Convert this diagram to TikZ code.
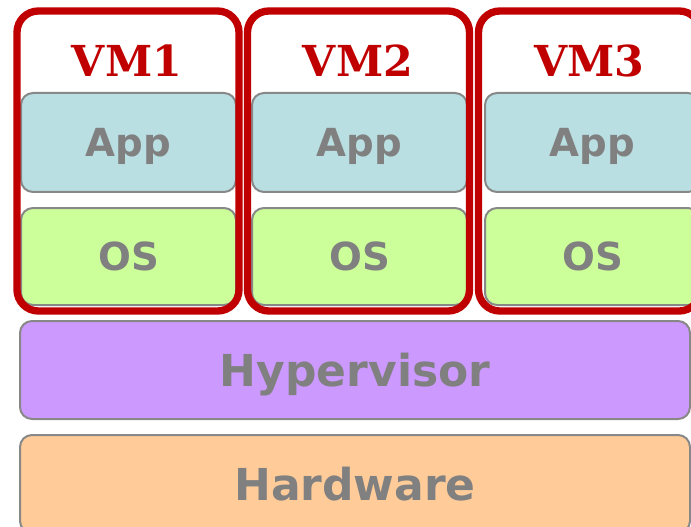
\documentclass[tikz,border=0pt]{standalone}
\usepackage{fontspec}
\usepackage{xcolor}
\newfontfamily\boxfont{DejaVu Sans}
\newfontfamily\vmfont{DejaVu Serif}
\definecolor{vmred}{HTML}{C00000}
\definecolor{appfill}{HTML}{B9DFE3}
\definecolor{osfill}{HTML}{CCFF99}
\definecolor{hypfill}{HTML}{CC99FF}
\definecolor{hwfill}{HTML}{FFCC99}
\definecolor{boxgray}{HTML}{888888}
\definecolor{textgray}{HTML}{808080}

\begin{document}
\begin{tikzpicture}[x=0.75pt, y=-0.75pt,
  layer/.style={draw=boxgray, line width=1.5pt, rounded corners=9pt,
    text=textgray, inner sep=0pt, text height=21pt, text depth=0pt,
    font={\boxfont\bfseries\fontsize{29pt}{29pt}\selectfont}},
  appbox/.style={layer, fill=appfill, minimum width=161.25pt, minimum height=74.25pt},
  osbox/.style={layer, fill=osfill, minimum width=161.25pt, minimum height=72.75pt},
  widebox/.style={layer, minimum width=502.5pt, minimum height=73.5pt, text height=24pt,
    font={\boxfont\bfseries\fontsize{33pt}{33pt}\selectfont}},
  vmframe/.style={draw=vmred, line width=5.5pt, rounded corners=16pt,
    minimum width=166.5pt, minimum height=225pt},
  vmlabel/.style={anchor=base, text=vmred, inner sep=0pt,
    font={\vmfont\bfseries\fontsize{32pt}{32pt}\selectfont}}]
  \useasboundingbox (0,0) rectangle (691,527);
  \clip (0,0) rectangle (691,527);

  % Apps and guest systems
  \node[appbox] (app1) at (128.5,142.5) {App};
  \node[appbox] (app2) at (359.5,142.5) {App};
  \node[appbox] (app3) at (592.5,142.5) {App};
  \node[osbox] (os1) at (128.5,256.5) {OS};
  \node[osbox] (os2) at (359.5,256.5) {OS};
  \node[osbox] (os3) at (592.5,256.5) {OS};

  % Virtual machines
  \node[vmframe] (vm1) at (128,161) {};
  \node[vmframe] (vm2) at (358.5,161) {};
  \node[vmframe] (vm3) at (589.5,161) {};
  \node[vmlabel] (vm1label) at (127,77) {VM1};
  \node[vmlabel] (vm2label) at (358,77) {VM2};
  \node[vmlabel] (vm3label) at (589,77) {VM3};

  % Lower layers
  \node[widebox, fill=hypfill] (hypervisor) at (355,370) {Hypervisor};
  \node[widebox, fill=hwfill] (hardware) at (355,484) {Hardware};
\end{tikzpicture}
\end{document}
